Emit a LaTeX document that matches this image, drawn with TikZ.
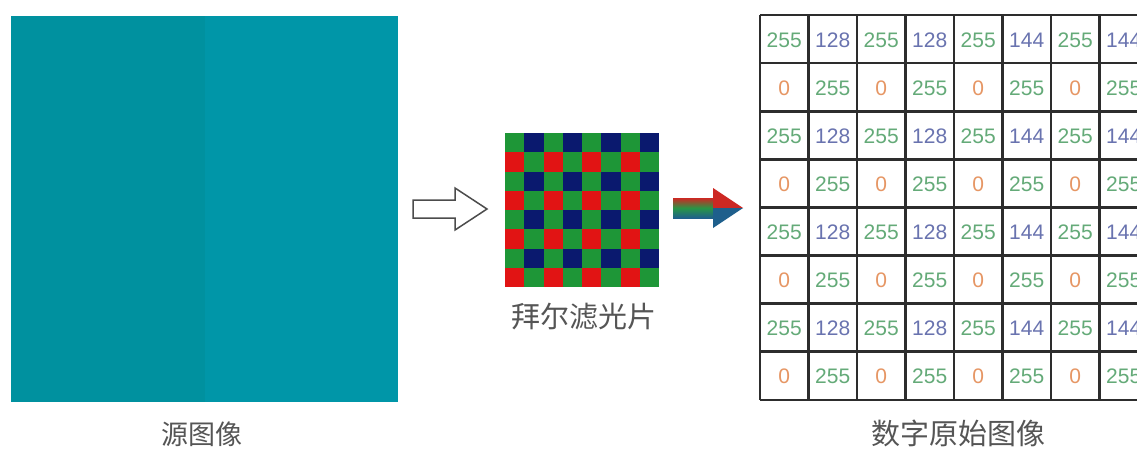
\documentclass[tikz,border=0pt]{standalone}
\usepackage{fontspec}
\usetikzlibrary{calc}
\setmainfont{Liberation Sans}
\newfontfamily\cjk{Noto Sans CJK SC}
\definecolor{srcL}{RGB}{0,145,159}
\definecolor{srcR}{RGB}{0,150,168}
\definecolor{bG}{RGB}{30,150,55}
\definecolor{bB}{RGB}{10,25,110}
\definecolor{bR}{RGB}{225,20,20}
\definecolor{cG}{RGB}{100,170,120}
\definecolor{cB}{RGB}{105,115,175}
\definecolor{cO}{RGB}{230,150,100}
\definecolor{gridc}{RGB}{45,45,45}
\definecolor{labc}{RGB}{85,85,85}
\definecolor{arR}{RGB}{205,40,35}
\definecolor{arG}{RGB}{40,150,70}
\definecolor{arB}{RGB}{30,95,140}
\tikzset{
  lab/.style={text=labc,font=\cjk\fontsize{27}{27}\selectfont,inner sep=0pt},
  num/.style={font=\fontsize{21}{21}\selectfont,inner sep=0pt},
  gridline/.style={draw=gridc,line width=2.6pt},
  openarrow/.style={draw=black!70,line width=1.5pt,fill=white,line join=miter},
}
\begin{document}
\begin{tikzpicture}[x=1pt,y=-1pt]
\useasboundingbox (0,0) rectangle (1137,448);
\fill[white] (0,0) rectangle (1137,448);
\clip (0,0) rectangle (1137,448);
% source image
\node[fill=srcL,minimum width=387pt,minimum height=386pt,inner sep=0pt,anchor=north west] (src) at (11,16) {};
\fill[srcR] (src.north) rectangle (src.south east);
\node[lab] (srclab) at (202,434) {源图像};
% open arrow
\draw[openarrow] (413,200) -- (455,200) -- (455,188) -- (487,209) -- (455,230) -- (455,218) -- (413,218) -- cycle;
% bayer filter
\node[minimum width=154pt,minimum height=154pt,inner sep=0pt,anchor=north west] (bayer) at (505,133) {};
\foreach \i in {0,...,7}{
  \foreach \j in {0,...,7}{
    \pgfmathtruncatemacro{\r}{mod(\i,2)}
    \pgfmathtruncatemacro{\c}{mod(\j,2)}
    \ifnum\r=0
      \ifnum\c=0 \def\cc{bG}\else \def\cc{bB}\fi
    \else
      \ifnum\c=0 \def\cc{bR}\else \def\cc{bG}\fi
    \fi
    \fill[\cc] ($(bayer.north west)+(\j*19.25,\i*19.25)$) rectangle ++(19.25,19.25);
  }
}
\node[lab,font=\cjk\fontsize{29}{29}\selectfont] (bayerlab) at (584,317) {拜尔滤光片};
% colour arrow
\shade[top color=arR,bottom color=arB,middle color=arG] (673,198) rectangle (714,218);
\fill[arR] (713,188) -- (743,208) -- (713,208) -- cycle;
\fill[arB] (713,208) -- (743,208) -- (713,228) -- cycle;
% table
\node[minimum width=388pt,minimum height=385pt,inner sep=0pt,anchor=north west] (tab) at (760,15) {};
\foreach \i in {0,...,7}{
  \foreach \j in {0,...,7}{
    \pgfmathtruncatemacro{\r}{mod(\i,2)}
    \pgfmathtruncatemacro{\c}{mod(\j,2)}
    \ifnum\r=0
      \ifnum\c=0 \def\vv{255}\def\cc{cG}\else
        \ifnum\j<4 \def\vv{128}\else \def\vv{144}\fi\def\cc{cB}\fi
    \else
      \ifnum\c=0 \def\vv{0}\def\cc{cO}\else \def\vv{255}\def\cc{cG}\fi
    \fi
    \node[num,text=\cc] (t\i\j) at ($(tab.north west)+(\j*48.5+24.25,\i*48.1+25)$) {\vv};
  }
}
\foreach \k in {0,...,8}{
  \draw[gridline] ($(tab.north west)+(\k*48.5,0)$) -- ($(tab.north west)+(\k*48.5,384.8)$);
  \draw[gridline] ($(tab.north west)+(0,\k*48.1)$) -- ($(tab.north west)+(388,\k*48.1)$);
}
\node[lab,font=\cjk\fontsize{29}{29}\selectfont] (tablab) at (958,433) {数字原始图像};
\end{tikzpicture}
\end{document}
